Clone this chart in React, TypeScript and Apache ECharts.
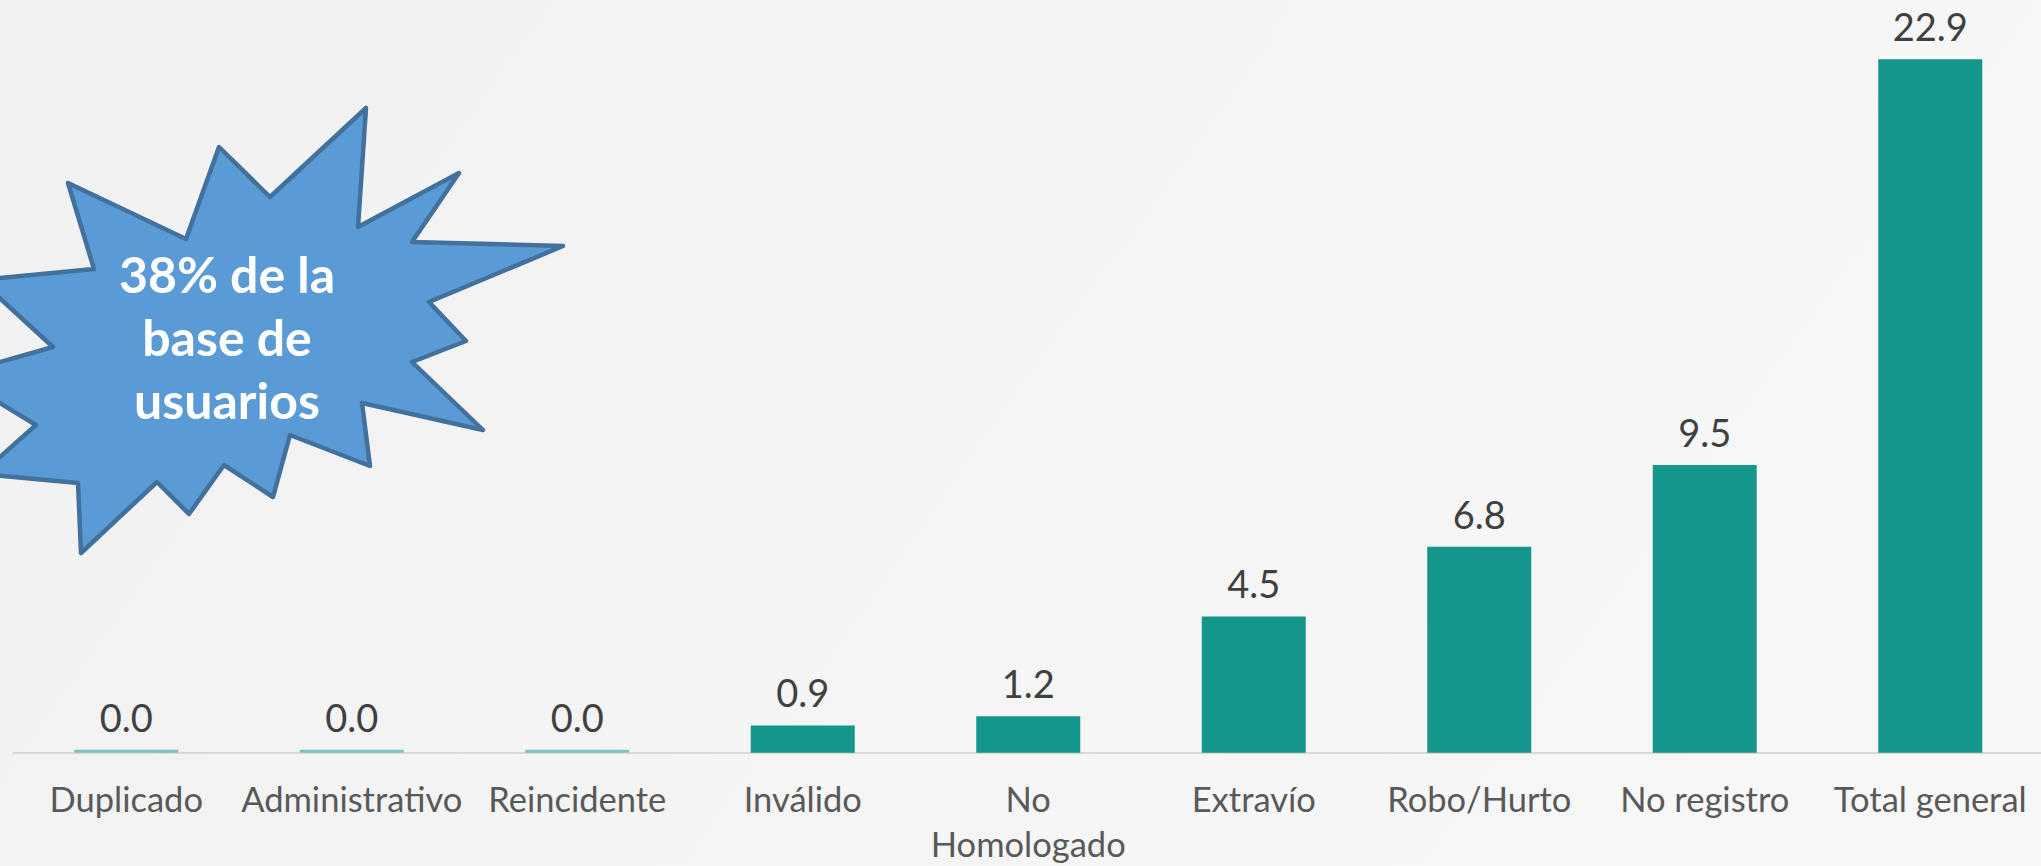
import React, { useEffect, useRef } from "react";
import * as echarts from "echarts";

const categories = [
  "Duplicado",
  "Administrativo",
  "Reincidente",
  "Inválido",
  "No Homologado",
  "Extravío",
  "Robo/Hurto",
  "No registro",
  "Total general",
];
const values = [0.0, 0.0, 0.0, 0.9, 1.2, 4.5, 6.8, 9.5, 22.9];
const calloutLines = ["38% de la", "base de", "usuarios"];

const burst: number[][] = [
  [68, 183], [186, 239], [219, 147], [270, 197], [366, 108], [358, 227],
  [459, 173], [412, 242], [563, 246], [429, 302], [466, 341], [412, 362],
  [483, 430], [362, 403], [370, 466], [290, 435], [273, 497], [224, 465],
  [189, 514], [157, 482], [81, 553], [78, 483], [-19, 474], [36, 425],
  [-46, 375], [53, 347], [-20, 280], [94, 269],
];

export default function App() {
  const ref = useRef<HTMLDivElement>(null);
  useEffect(() => {
    const chart = echarts.init(ref.current!, null, { renderer: "svg" });
    chart.setOption({
      animation: false,
      backgroundColor: {
        type: "linear",
        x: 0,
        y: 0,
        x2: 1,
        y2: 0.3,
        colorStops: [
          { offset: 0, color: "#f1f1f1" },
          { offset: 1, color: "#f7f7f7" },
        ],
      },
      grid: {
        left: 13.5,
        width: 2029.5,
        top: 26,
        bottom: 113.3,
        containLabel: false,
        outerBoundsMode: "none",
      },
      xAxis: {
        type: "category",
        data: categories,
        axisLine: { lineStyle: { color: "#d9d9d9", width: 2 } },
        axisTick: { show: false },
        axisLabel: {
          interval: 0,
          color: "#595959",
          fontFamily: "Lato",
          fontSize: 34.5,
          lineHeight: 45,
          margin: 23,
          formatter: (v: string) => (v === "No Homologado" ? "No\nHomologado" : v),
        },
      },
      yAxis: {
        type: "value",
        min: 0,
        max: 24,
        show: false,
        splitLine: { show: false },
      },
      series: [
        {
          type: "bar",
          data: values.map((v) => ({
            value: v,
            itemStyle: v === 0 ? { color: "#7cc4bd" } : undefined,
          })),
          barWidth: 104,
          barMinHeight: 3,
          itemStyle: { color: "#15968d" },
          label: {
            show: true,
            position: "top",
            distance: 14,
            color: "#404040",
            fontFamily: "Lato",
            fontSize: 38,
            formatter: (p: any) => Number(p.value).toFixed(1),
          },
        },
      ],
      graphic: [
        {
          type: "polygon",
          shape: { points: burst },
          style: { fill: "#5b9bd5", stroke: "#41719c", lineWidth: 4.5, lineJoin: "round" },
          z: 100,
        },
        {
          type: "text",
          x: 227,
          y: 337,
          z: 101,
          style: {
            text: calloutLines.join("\n"),
            fill: "#ffffff",
            font: "bold 50px Lato",
            lineHeight: 63,
            align: "center",
            verticalAlign: "middle",
          },
        },
      ],
    });
    return () => chart.dispose();
  }, []);
  return (
    <div
      ref={ref}
      style={{ position: "fixed", left: 0, top: 0, width: 2041, height: 866 }}
    />
  );
}
